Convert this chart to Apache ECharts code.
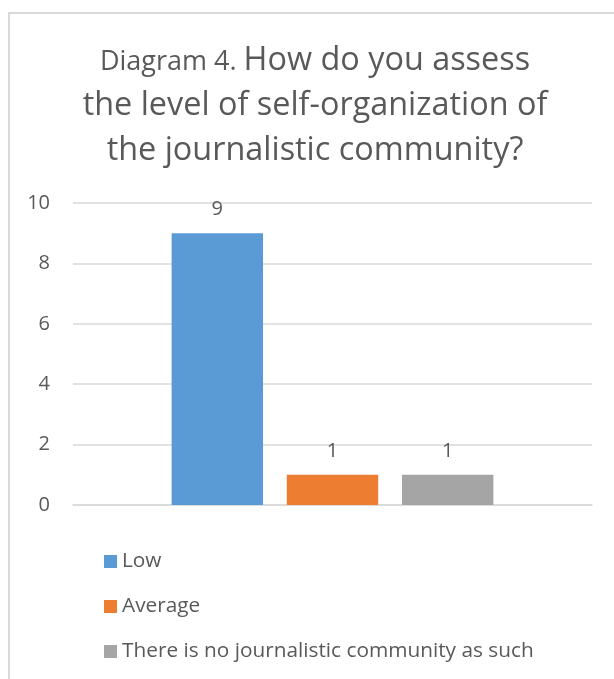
<!DOCTYPE html>
<html>
<head>
<meta charset="utf-8">
<script src="https://cdn.jsdelivr.net/npm/echarts@6/dist/echarts.min.js"></script>
<style>
html,body{margin:0;padding:0;background:#fff;}
#chart{width:614px;height:679px;}
</style>
</head>
<body>
<div id="chart"></div>
<script>
const categories = ['Low', 'Average', 'There is no journalistic community as such'];
const values = [9, 1, 1];
const colors = ['#5B9BD5', '#ED7D31', '#A5A5A5'];
const yTicks = [0, 2, 4, 6, 8, 10];

const FONT = '"Open Sans", sans-serif';
const TXT = '#595959';

const chart = echarts.init(document.getElementById('chart'), null, {renderer: 'canvas'});

const series = categories.map((name, i) => ({
  name: name,
  type: 'bar',
  data: [values[i]],
  barGap: '26%',
  barCategoryGap: '38%',
  itemStyle: {color: colors[i]},
  label: {
    show: true,
    position: 'top',
    distance: 14,
    color: TXT,
    fontFamily: FONT,
    fontSize: 20
  }
}));

chart.setOption({
  animation: false,
  backgroundColor: '#fff',
  graphic: [{
    type: 'rect',
    shape: {x: 9, y: 13, width: 700, height: 700},
    style: {fill: 'none', stroke: '#D9D9D9', lineWidth: 2},
    silent: true,
    z: -10
  }],
  title: {
    left: 315,
    top: 38,
    textAlign: 'center',
    padding: 0,
    text: '{a|Diagram 4. }{b|How do you assess}\n{b|the level of self-organization of}\n{b|the journalistic community?}',
    textStyle: {
      fontWeight: 'normal',
      rich: {
        a: {fontFamily: FONT, fontSize: 27, fontWeight: 'normal', color: TXT, lineHeight: 41, padding: [4, 0, 0, 0]},
        b: {fontFamily: FONT, fontSize: 32.4, fontWeight: 'normal', color: TXT, lineHeight: 45}
      }
    }
  },
  legend: {
    orient: 'vertical',
    left: 104,
    top: 550,
    icon: 'rect',
    itemWidth: 13,
    itemHeight: 13,
    itemGap: 22,
    padding: 0,
    textStyle: {fontFamily: FONT, fontSize: 20.8, color: TXT, lineHeight: 23},
    data: categories
  },
  grid: {left: 73, right: 22, top: 203, bottom: 174, containLabel: false},
  xAxis: {
    type: 'category',
    data: [''],
    axisLine: {show: true, lineStyle: {color: '#D9D9D9', width: 1.5}},
    axisTick: {show: false},
    axisLabel: {show: false}
  },
  yAxis: {
    type: 'value',
    min: yTicks[0],
    max: yTicks[yTicks.length - 1],
    interval: 2,
    axisLine: {show: false},
    axisTick: {show: false},
    splitLine: {lineStyle: {color: '#D9D9D9', width: 1.5}},
    axisLabel: {margin: 23, color: TXT, fontFamily: FONT, fontSize: 20}
  },
  series: series
});
</script>
</body>
</html>
